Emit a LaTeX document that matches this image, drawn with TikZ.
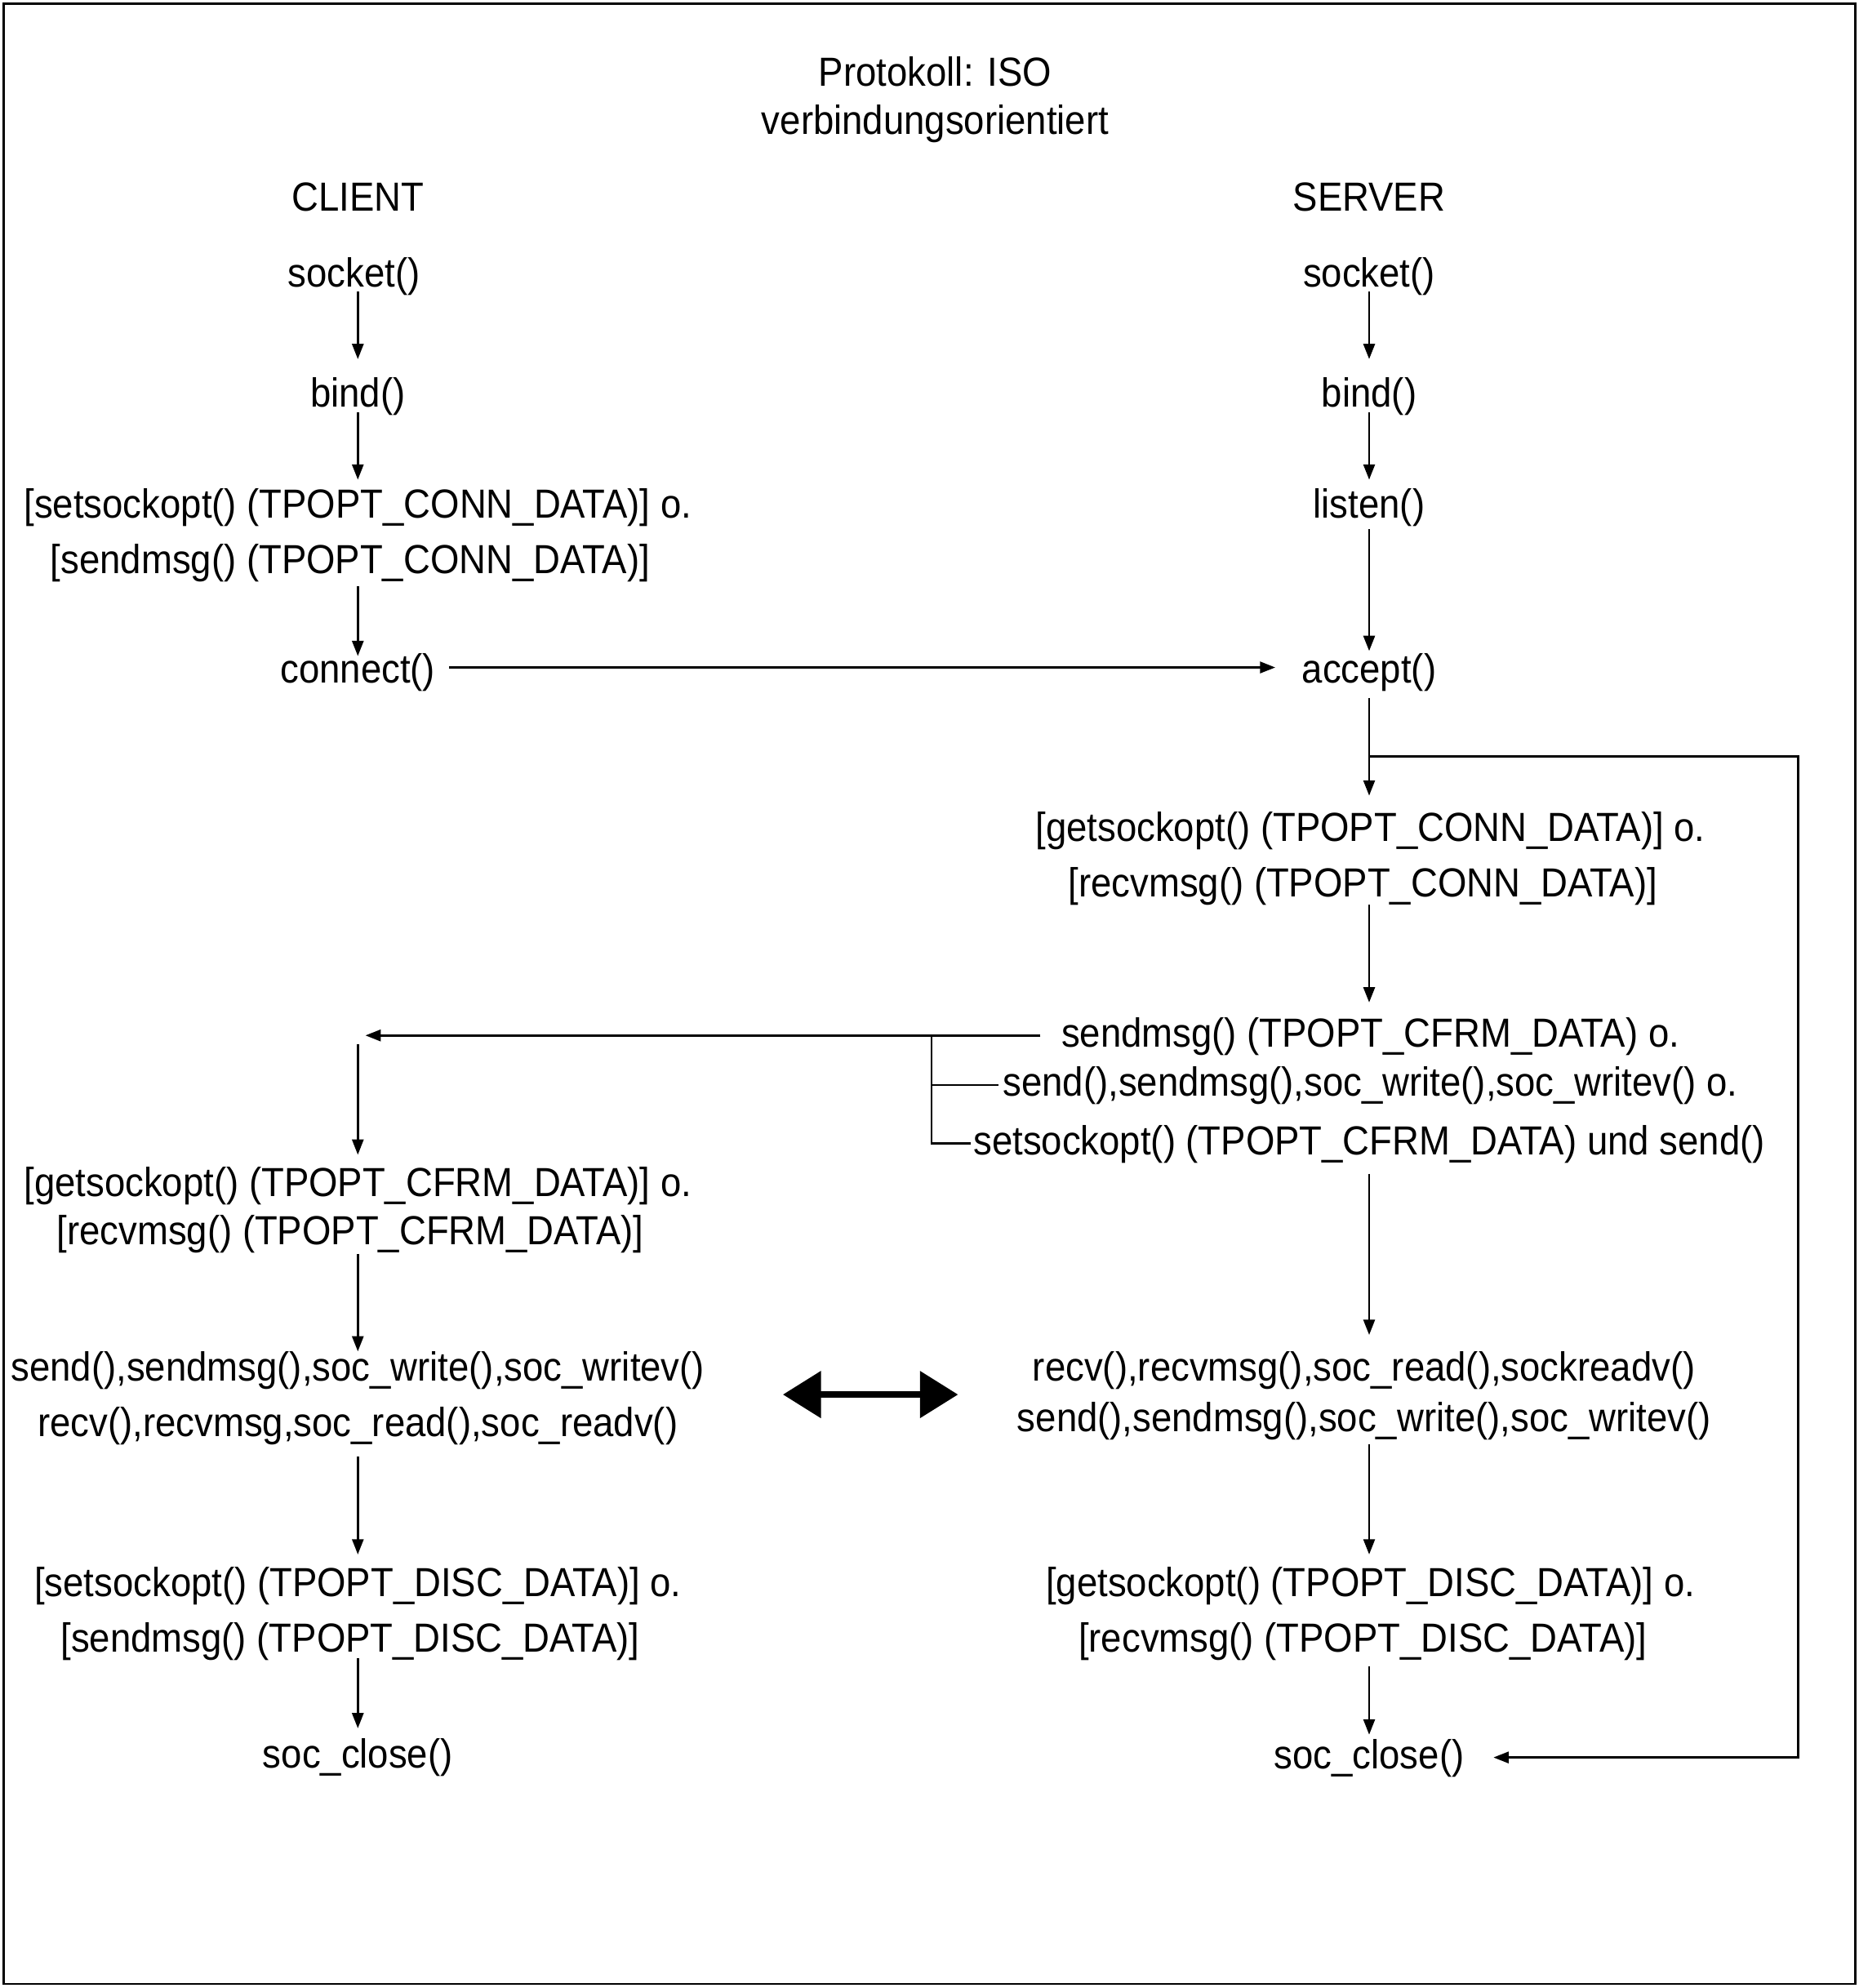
\documentclass[tikz,border=0pt]{standalone}
\usepackage{fontspec}
\setmainfont{Liberation Sans}[FakeStretch=0.915]
\usetikzlibrary{arrows.meta,calc}
\begin{document}
\begin{tikzpicture}[x=1pt,y=-1pt,
  lbl/.style={inner sep=0pt, font=\fontsize{32}{38}\selectfont, text height=25pt, text depth=3pt},
  arr/.style={-{Triangle[length=12pt,width=9pt]}, line width=1.6pt},
  ln/.style={line width=1.6pt},
  bigarr/.style={line width=5pt, {Triangle[length=30pt,width=36pt]}-{Triangle[length=30pt,width=36pt]}}]
\useasboundingbox (0,0) rectangle (1465,1566.7);
\draw[line width=1.6pt] (3,3) rectangle (1462,1563.5);

% titles
\node[lbl] (t1) at (737,57) {Protokoll: ISO};
\node[lbl] (t2) at (737,95) {verbindungsorientiert};
\node[lbl] (client) at (282,155) {CLIENT};
\node[lbl] (server) at (1079,155) {SERVER};

% client column
\node[lbl] (cs) at (279,215) {socket()};
\node[lbl] (cb) at (282,310) {bind()};
\node[lbl] (cso1) at (282,397) {[setsockopt() (TPOPT\_CONN\_DATA)] o.};
\node[lbl] (cso2) at (276,441) {[sendmsg() (TPOPT\_CONN\_DATA)]};
\node[lbl] (cc) at (282,527) {connect()};
\node[lbl] (cg1) at (282,932) {[getsockopt() (TPOPT\_CFRM\_DATA)] o.};
\node[lbl] (cg2) at (276,970) {[recvmsg() (TPOPT\_CFRM\_DATA)]};
\node[lbl] (cd1) at (282,1077) {send(),sendmsg(),soc\_write(),soc\_writev()};
\node[lbl] (cd2) at (282,1121) {recv(),recvmsg,soc\_read(),soc\_readv()};
\node[lbl] (cx1) at (282,1247) {[setsockopt() (TPOPT\_DISC\_DATA)] o.};
\node[lbl] (cx2) at (276,1291) {[sendmsg() (TPOPT\_DISC\_DATA)]};
\node[lbl] (ccl) at (282,1382) {soc\_close()};

% server column
\node[lbl] (ss) at (1079,215) {socket()};
\node[lbl] (sb) at (1079,310) {bind()};
\node[lbl] (sl) at (1079,397) {listen()};
\node[lbl] (sa) at (1079,527) {accept()};
\node[lbl] (sg1) at (1080,652) {[getsockopt() (TPOPT\_CONN\_DATA)] o.};
\node[lbl] (sg2) at (1074,696) {[recvmsg() (TPOPT\_CONN\_DATA)]};
\node[lbl] (sf1) at (1080,814) {sendmsg() (TPOPT\_CFRM\_DATA) o.};
\node[lbl] (sf2) at (1080,853) {send(),sendmsg(),soc\_write(),soc\_writev() o.};
\node[lbl] (sf3) at (1079,899) {setsockopt() (TPOPT\_CFRM\_DATA) und send()};
\node[lbl] (sd1) at (1075,1077) {recv(),recvmsg(),soc\_read(),sockreadv()};
\node[lbl] (sd2) at (1075,1117) {send(),sendmsg(),soc\_write(),soc\_writev()};
\node[lbl] (sx1) at (1080,1247) {[getsockopt() (TPOPT\_DISC\_DATA)] o.};
\node[lbl] (sx2) at (1074,1291) {[recvmsg() (TPOPT\_DISC\_DATA)]};
\node[lbl] (scl) at (1079,1383) {soc\_close()};

% client arrows
\draw[arr] ($(cs)+(3,15)$) -- ($(cb)+(0,-27)$);
\draw[arr] ($(cb)+(0,15)$) -- ($(cso1)+(0,-19)$);
\draw[arr] ($(cso2)+(6,21)$) -- ($(cc)+(0,-10)$);
\draw[arr] ($(cg2)+(6,18)$) -- ($(cd1)+(0,-12)$);
\draw[arr] ($(cd2)+(0,27)$) -- ($(cx1)+(0,-22)$);
\draw[arr] ($(cx2)+(6,16)$) -- ($(ccl)+(0,-20)$);

% server arrows
\draw[arr] ($(ss)+(0,15)$) -- ($(sb)+(0,-27)$);
\draw[arr] ($(sb)+(0,15)$) -- ($(sl)+(0,-19)$);
\draw[arr] ($(sl)+(0,20)$) -- ($(sa)+(0,-14)$);
\draw[arr] ($(sa)+(0,23)$) -- ($(sg1)+(-1,-25)$);
\draw[arr] ($(sg2)+(5,17)$) -- ($(sf1)+(-1,-24)$);
\draw[arr] ($(sf3)+(0,26)$) -- ($(sd1)+(4,-25)$);
\draw[arr] ($(sd2)+(4,21)$) -- ($(sx1)+(-1,-22)$);
\draw[arr] ($(sx2)+(5,22)$) -- ($(scl)+(0,-16)$);

% connect -> accept
\draw[arr] ($(cc)+(72,-1)$) -- ($(sa)+(-74,-1)$);

% loop accept -> soc_close (server)
\coordinate (lj) at ($(sa)+(0,69)$);
\draw[ln] (lj) -- ++(338,0) |- ($(scl)+(150,2)$);
\draw[arr] ($(scl)+(150,2)$) -- ($(scl)+(98,2)$);

% confirmation branch
\coordinate (bj) at ($(sf1)+(-346,2)$);
\draw[arr] ($(sf1)+(-260,2)$) -- ($(cg1)+(6,-116)$);
\draw[ln] (bj) |- ($(sf3)+(-314,2)$);
\draw[ln] ($(sf2)+(-346,2)$) -- ($(sf2)+(-293,2)$);
\draw[arr] ($(cg1)+(0,-109)$) -- ($(cg1)+(0,-22)$);

% data exchange
\draw[bigarr] (617,1099) -- (755,1099);
\end{tikzpicture}
\end{document}
